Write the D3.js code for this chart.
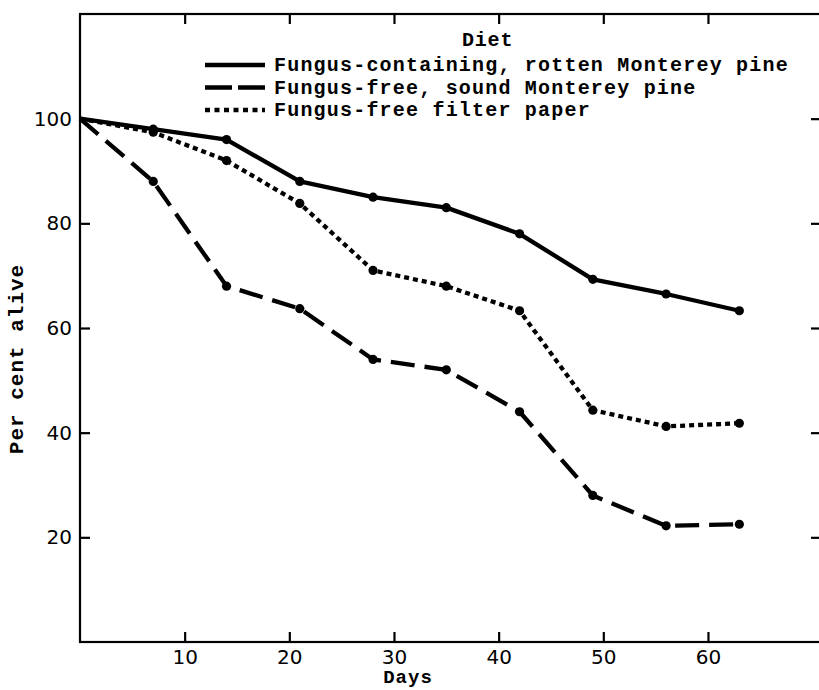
<!DOCTYPE html>
<html>
<head>
<meta charset="utf-8">
<script src="https://cdn.jsdelivr.net/npm/d3@7/dist/d3.min.js"></script>
<style>
  html, body { margin: 0; padding: 0; background: #fff; }
  svg { display: block; }
</style>
</head>
<body>
<svg id="chart" width="819" height="690"></svg>
<script>
// ---- data ----
const days = [0, 7, 14, 21, 28, 35, 42, 49, 56, 63];
const fungusRotten = [100, 98, 96, 88, 85, 83, 78, 69.3, 66.5, 63.3];
const fungusFreeSound = [100, 88, 68, 63.7, 54, 52, 44, 28, 22.2, 22.5];
const filterPaper = [100, 97.4, 92, 83.8, 71, 68, 63.3, 44.3, 41.2, 41.8];
const seriesNames = [
  "Fungus-containing, rotten Monterey pine",
  "Fungus-free, sound Monterey pine",
  "Fungus-free filter paper"
];
const xTicks = [10, 20, 30, 40, 50, 60];
const yTicks = [20, 40, 60, 80, 100];
const legendTitle = "Diet";
const xTitle = "Days";
const yTitle = "Per cent alive";

// ---- layout ----
const svg = d3.select("#chart");
const mLeft = 80, mTop = 14, mBottom = 642, mRight = 821;
const x = d3.scaleLinear().domain([0, 70.8]).range([mLeft, mRight]);
const y = d3.scaleLinear().domain([0, 120]).range([mBottom, mTop]);

const monoFont = "'Liberation Mono', 'Courier New', monospace";
const numFont = "'DejaVu Sans', sans-serif";

// frame
svg.append("rect")
  .attr("x", mLeft).attr("y", mTop)
  .attr("width", mRight - mLeft).attr("height", mBottom - mTop)
  .attr("fill", "none").attr("stroke", "#000").attr("stroke-width", 2.2);

const tickLen = 10;
const axBottom = svg.append("g").attr("transform", `translate(0,${mBottom})`)
  .call(d3.axisBottom(x).tickValues(xTicks).tickSizeInner(-tickLen).tickSizeOuter(0).tickPadding(8));
const axTop = svg.append("g").attr("transform", `translate(0,${mTop})`)
  .call(d3.axisTop(x).tickValues(xTicks).tickSizeInner(-tickLen).tickSizeOuter(0).tickFormat(""));
const axLeft = svg.append("g").attr("transform", `translate(${mLeft},0)`)
  .call(d3.axisLeft(y).tickValues(yTicks).tickSizeInner(-tickLen).tickSizeOuter(0).tickPadding(8));
const axRight = svg.append("g").attr("transform", `translate(${mRight},0)`)
  .call(d3.axisRight(y).tickValues(yTicks).tickSizeInner(-tickLen).tickSizeOuter(0).tickFormat(""));

[axBottom, axTop, axLeft, axRight].forEach(g => {
  g.select(".domain").remove();
  g.selectAll(".tick line").attr("stroke", "#000").attr("stroke-width", 2.2);
  g.selectAll("text").attr("fill", "#000").attr("font-family", numFont).attr("font-size", 20);
});

// series
const series = [
  { values: fungusRotten, dash: null },
  { values: fungusFreeSound, dash: "24,10" },
  { values: filterPaper, dash: "5,4" }
];
const line = d3.line().x(d => x(d[0])).y(d => y(d[1]));

series.forEach(s => {
  const pts = days.map((d, i) => [d, s.values[i]]);
  svg.append("path")
    .datum(pts)
    .attr("d", line)
    .attr("fill", "none")
    .attr("stroke", "#000")
    .attr("stroke-width", 4.3)
    .attr("stroke-dasharray", s.dash)
    .attr("stroke-linejoin", "round");
  svg.append("g").selectAll("circle")
    .data(pts.slice(1))
    .join("circle")
    .attr("cx", d => x(d[0]))
    .attr("cy", d => y(d[1]))
    .attr("r", 4.6)
    .attr("fill", "#000");
});

// legend
const lg = svg.append("g");
lg.append("text")
  .attr("x", 462).attr("y", 46)
  .attr("font-family", monoFont).attr("font-size", 20).attr("font-weight", "bold")
  .attr("letter-spacing", 0.8)
  .text(legendTitle);
series.forEach((s, i) => {
  const ly = 65 + i * 22.5;
  lg.append("line")
    .attr("x1", 205).attr("x2", 265).attr("y1", ly).attr("y2", ly)
    .attr("stroke", "#000").attr("stroke-width", 4.5)
    .attr("stroke-dasharray", i === 1 ? "27,6" : (i === 2 ? "5,4.5" : null));
  lg.append("text")
    .attr("x", 274).attr("y", ly + 6)
    .attr("font-family", monoFont).attr("font-size", 20).attr("font-weight", "bold")
    .attr("letter-spacing", 1.2)
    .text(seriesNames[i]);
});

// axis titles
svg.append("text")
  .attr("x", 408).attr("y", 683)
  .attr("text-anchor", "middle")
  .attr("font-family", monoFont).attr("font-size", 19).attr("font-weight", "bold")
  .attr("letter-spacing", 1)
  .text(xTitle);
svg.append("text")
  .attr("transform", `translate(23,359) rotate(-90)`)
  .attr("text-anchor", "middle")
  .attr("font-family", monoFont).attr("font-size", 21).attr("font-weight", "bold")
  .attr("letter-spacing", 1)
  .text(yTitle);
</script>
</body>
</html>
